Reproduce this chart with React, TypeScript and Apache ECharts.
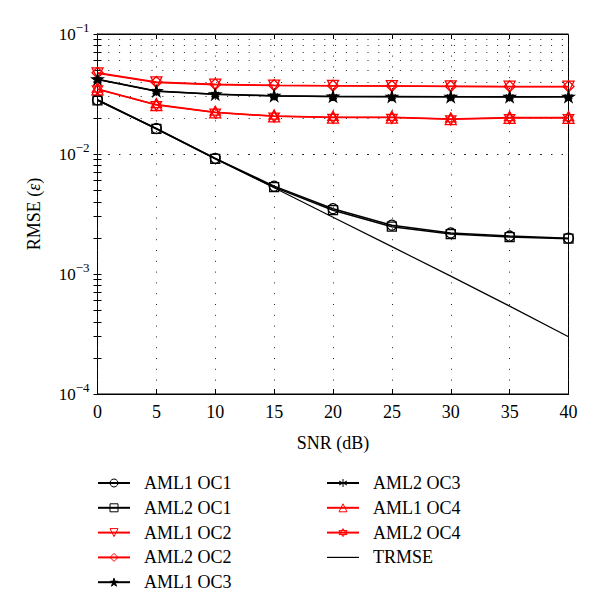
import React, { useEffect, useRef } from "react";
import * as echarts from "echarts";

const SNR = [0, 5, 10, 15, 20, 25, 30, 35, 40];
const AML1_OC1 = [0.0282, 0.0163, 0.0092, 0.0054, 0.0035, 0.00255, 0.0022, 0.00207, 0.00199];
const AML2_OC1 = [0.028, 0.0162, 0.0091, 0.0053, 0.0034, 0.00248, 0.00215, 0.00203, 0.00197];
const AML1_OC2 = [0.047, 0.0395, 0.0378, 0.0372, 0.037, 0.0368, 0.0366, 0.0364, 0.0364];
const AML2_OC2 = [0.0475, 0.0398, 0.0381, 0.0374, 0.0371, 0.0369, 0.0367, 0.0366, 0.0366];
const AML1_OC3 = [0.042, 0.0335, 0.0315, 0.0306, 0.0302, 0.0301, 0.03, 0.03, 0.03];
const AML2_OC3 = [0.0418, 0.0333, 0.0314, 0.0305, 0.0301, 0.03, 0.03, 0.0299, 0.03];
const AML1_OC4 = [0.0346, 0.0256, 0.0222, 0.0206, 0.0201, 0.0201, 0.0195, 0.02, 0.02];
const AML2_OC4 = [0.0348, 0.0258, 0.0223, 0.0207, 0.0202, 0.0202, 0.0196, 0.0201, 0.0201];
const TRMSE = [0.0285, 0.0162, 0.0092, 0.00523, 0.00297, 0.00169, 0.00096, 0.00054, 0.0003];

const Y_LABELS = [0.0001, 0.001, 0.01, 0.1];
const Y_TICKS = [
  0.0001, 0.0002, 0.0003, 0.0004, 0.0005, 0.0006, 0.0007, 0.0008, 0.0009,
  0.001, 0.002, 0.003, 0.004, 0.005, 0.006, 0.007, 0.008, 0.009,
  0.01, 0.02, 0.03, 0.04, 0.05, 0.06, 0.07, 0.08, 0.09, 0.1,
];

const STAR =
  "path://M0,-10L2.245,-3.09L9.51,-3.09L3.633,1.18L5.88,8.09L0,3.82L-5.88,8.09L-3.633,1.18L-9.51,-3.09L-2.245,-3.09Z";
const ASTERISK = "path://M0,-10L0,10M-8.66,-5L8.66,5M-8.66,5L8.66,-5";
const HEXAGRAM = "path://M0,-10L8.66,5L-8.66,5ZM0,10L-8.66,-5L8.66,-5Z";
const PLAIN_LINE = "path://M0,0L32,0L32,1.2L0,1.2Z";

const RED = "#f00";
const BLACK = "#000";
const FONT = "'Liberation Serif', 'Times New Roman', serif";

const SERIES = [
  { name: "AML1 OC1", data: AML1_OC1, color: BLACK, symbol: "circle", size: 10, rotate: 0, fill: "transparent" },
  { name: "AML2 OC1", data: AML2_OC1, color: BLACK, symbol: "rect", size: 9, rotate: 0, fill: "transparent" },
  { name: "AML1 OC2", data: AML1_OC2, color: RED, symbol: "triangle", size: 11, rotate: 180, fill: "transparent" },
  { name: "AML2 OC2", data: AML2_OC2, color: RED, symbol: "diamond", size: 11, rotate: 0, fill: "transparent" },
  { name: "AML1 OC3", data: AML1_OC3, color: BLACK, symbol: STAR, size: 11, rotate: 0, fill: BLACK },
  { name: "AML2 OC3", data: AML2_OC3, color: BLACK, symbol: ASTERISK, size: 9, rotate: 0, fill: "transparent" },
  { name: "AML1 OC4", data: AML1_OC4, color: RED, symbol: "triangle", size: 11, rotate: 0, fill: "transparent" },
  { name: "AML2 OC4", data: AML2_OC4, color: RED, symbol: HEXAGRAM, size: 12, rotate: 0, fill: "transparent" },
  { name: "TRMSE", data: TRMSE, color: BLACK, symbol: "none", size: 0, rotate: 0, fill: "transparent" },
];

const DOT = { color: "#222", type: [1, 9.8], width: 1 };

export default function App() {
  const ref = useRef<HTMLDivElement>(null);
  useEffect(() => {
    document.body.style.margin = "0";
    if (!ref.current) return;
    const chart = echarts.init(ref.current, null, { renderer: "svg" });
    const yLabelFmt = (v: number) => {
      const e = Math.round(Math.log10(v));
      return `{b|10}{s|\u2212${Math.abs(e)}}`;
    };
    const legendItems = (names: string[]) =>
      names.map((n) => (n === "TRMSE" ? { name: n, icon: PLAIN_LINE, itemStyle: { color: BLACK, borderWidth: 0 } } : { name: n }));
    const legendBase = {
      orient: "vertical",
      padding: 0,
      itemWidth: 32,
      itemHeight: 10,
      itemGap: 6.8,
      symbolKeepAspect: true,
      itemStyle: { borderWidth: 1 },
      textStyle: { fontFamily: FONT, fontSize: 18, color: "#000", lineHeight: 18, padding: [0, 0, 0, 9] },
      selectedMode: false,
    };
    const option: any = {
      animation: false,
      backgroundColor: "#fff",
      textStyle: { fontFamily: FONT },
      grid: {
        left: 97.5,
        top: 34,
        width: 471,
        height: 360,
        show: true,
        borderColor: "#000",
        borderWidth: 1,
        backgroundColor: "transparent",
      },
      legend: [
        { ...legendBase, left: 97, top: 474, data: legendItems(SERIES.slice(0, 5).map((s) => s.name)) },
        { ...legendBase, left: 326, top: 474, data: legendItems(SERIES.slice(5).map((s) => s.name)) },
      ],
      xAxis: [
        {
          type: "value",
          min: 0,
          max: 40,
          interval: 5,
          name: "SNR (dB)",
          nameLocation: "middle",
          nameGap: 40,
          nameTextStyle: { fontFamily: FONT, fontSize: 18, color: "#000" },
          axisLine: { show: true, lineStyle: { color: "#000", width: 1 } },
          axisTick: { show: true, inside: true, length: 5, lineStyle: { color: "#000" } },
          axisLabel: { fontFamily: FONT, fontSize: 18, color: "#000", margin: 9 },
          splitLine: { show: true, lineStyle: DOT },
          z: 2,
        },
        {
          type: "value",
          position: "top",
          min: 0,
          max: 40,
          interval: 5,
          axisLine: { show: true, lineStyle: { color: "#000", width: 1 } },
          axisTick: { show: true, inside: true, length: 5, lineStyle: { color: "#000" } },
          axisLabel: { show: false },
          splitLine: { show: false },
        },
      ],
      yAxis: [
        {
          type: "log",
          logBase: 10,
          min: 0.0001,
          max: 0.1,
          name: "{a|RMSE (}{e|\u03b5}{a|)}",
          nameLocation: "middle",
          nameGap: 55,
          nameTextStyle: {
            rich: {
              a: { fontFamily: FONT, fontSize: 18, color: "#000" },
              e: { fontFamily: FONT, fontSize: 18, fontStyle: "italic", color: "#000" },
            },
          },
          axisLine: { show: true, lineStyle: { color: "#000", width: 1 } },
          axisTick: { show: true, inside: true, length: 4, customValues: Y_TICKS, lineStyle: { color: "#000" } },
          axisLabel: {
            customValues: Y_LABELS,
            formatter: yLabelFmt,
            margin: 8,
            rich: {
              b: { fontFamily: FONT, fontSize: 17, lineHeight: 17, color: "#000", verticalAlign: "bottom" },
              s: { fontFamily: FONT, fontSize: 13, lineHeight: 13, color: "#000", verticalAlign: "bottom", padding: [0, 0, 9, 0] },
            },
          },
          splitLine: { show: false },
        },
        {
          type: "log",
          logBase: 10,
          min: 0.0001,
          max: 0.1,
          position: "right",
          axisLine: { show: true, lineStyle: { color: "#000", width: 1 } },
          axisTick: { show: true, inside: true, length: 4, customValues: Y_TICKS, lineStyle: { color: "#000" } },
          axisLabel: { show: false },
          splitLine: { show: false },
        },
      ],
      series: [
        {
          type: "line",
          name: "_grid",
          data: [[0, 0.01]],
          symbol: "none",
          lineStyle: { opacity: 0 },
          silent: true,
          z: 1,
          markLine: {
            silent: true,
            symbol: ["none", "none"],
            label: { show: false },
            lineStyle: DOT,
            emphasis: { disabled: true },
            data: Y_TICKS.slice(1, -1).map((v) => ({ yAxis: v })),
          },
        },
        ...SERIES.map((s, i) => ({
          type: "line",
          name: s.name,
          data: SNR.map((x, j) => [x, s.data[j]]),
          symbol: s.symbol,
          symbolSize: s.size,
          symbolRotate: s.rotate,
          symbolKeepAspect: true,
          showSymbol: s.symbol !== "none",
          z: 3 + i,
          lineStyle: { color: s.color, width: s.symbol === "none" ? 1.2 : 1.5 },
          itemStyle: { color: s.fill, borderColor: s.color, borderWidth: 1.3 },
          emphasis: { disabled: true },
        })),
      ],
    };
    chart.setOption(option);
    return () => chart.dispose();
  }, []);
  return <div ref={ref} style={{ width: 600, height: 608 }} />;
}
